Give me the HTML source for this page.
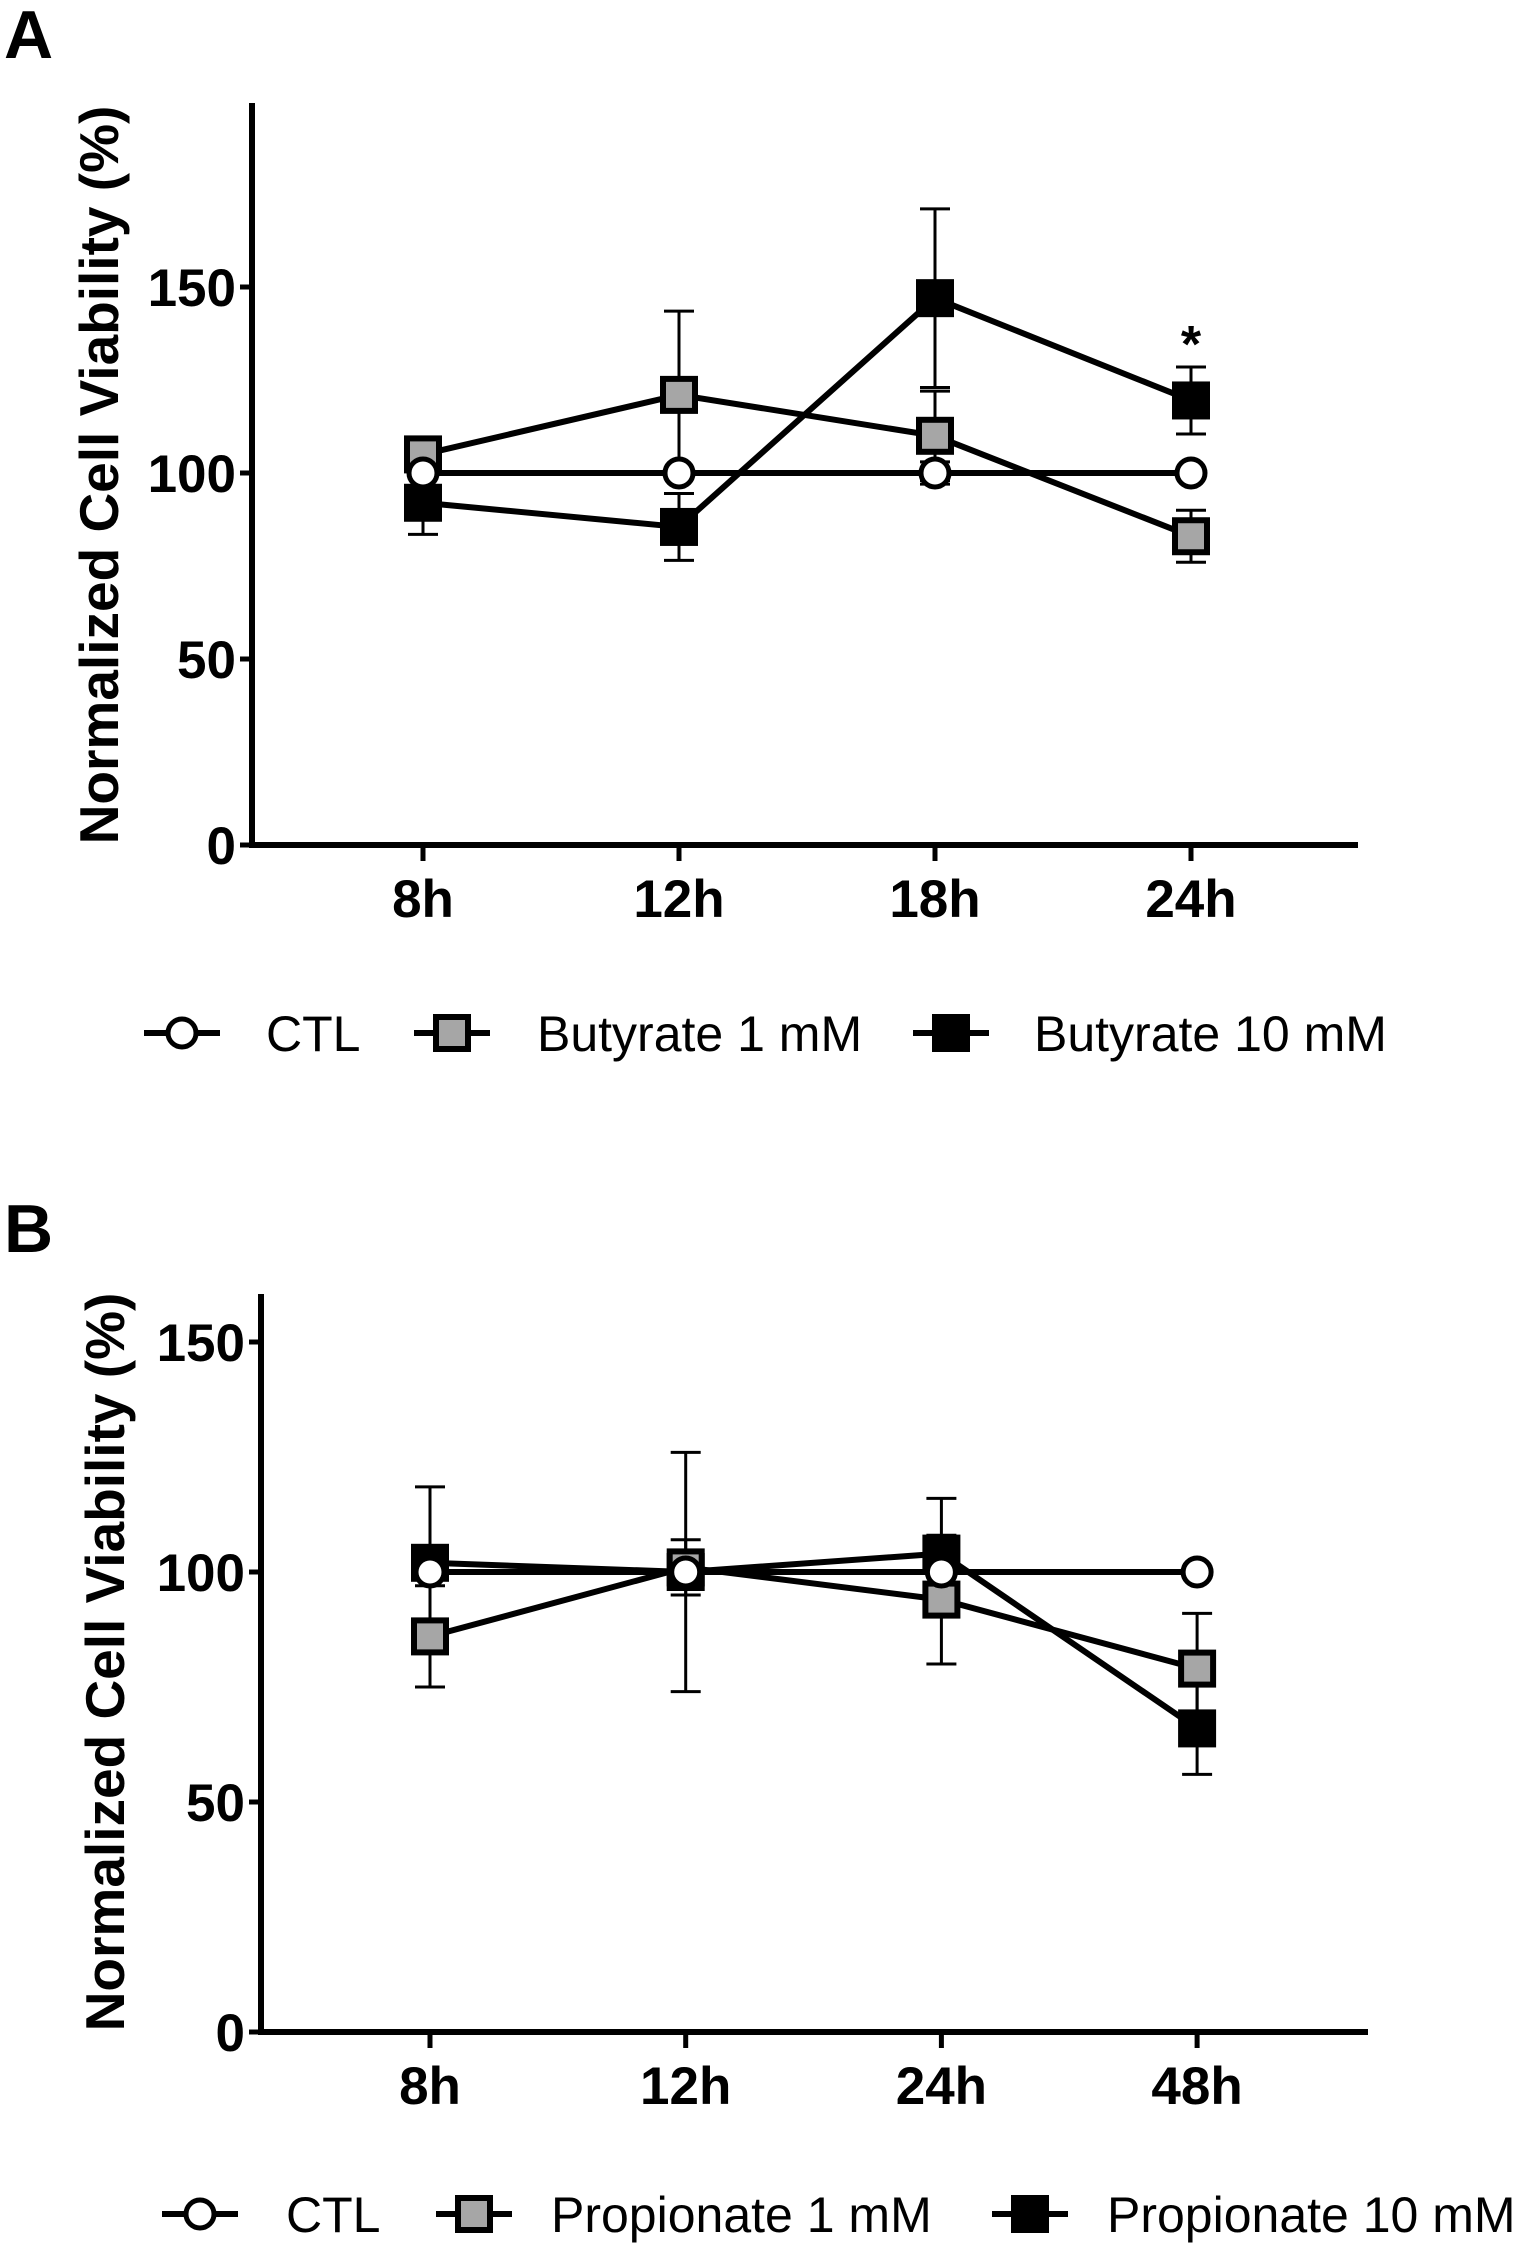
<!DOCTYPE html>
<html><head><meta charset="utf-8"><style>
html,body{margin:0;padding:0;background:#fff;}
svg{display:block;font-family:"Liberation Sans",Arial,sans-serif;}
</style></head><body>
<svg id="fig" width="1524" height="2250" viewBox="0 0 1524 2250" xmlns="http://www.w3.org/2000/svg"></svg>
<script>
// Panel A data
const catsA = ["8h","12h","18h","24h"];
const ctlA = [100,100,100,100];
const ctlAErr = [0,0,3,0];
const but1 = [105,121,110,83];
const but1Err = [0,22.5,12,7];
const but10 = [92,85.5,147,119.5];
const but10Err = [8.5,9,24,9];
const ticksA = [0,50,100,150];
// Panel B data
const catsB = ["8h","12h","24h","48h"];
const ctlB = [100,100,100,100];
const ctlBErr = [0,0,0,0];
const prop1 = [86,101,94,79];
const prop1Err = [11,6,14,12];
const prop10 = [102,100,104,66];
const prop10Err = [16.5,26,12,10];
const ticksB = [0,50,100,150];

const NS="http://www.w3.org/2000/svg";
const svg=document.getElementById('fig');
function mk(tag,attrs,parent){const e=document.createElementNS(NS,tag);for(const k in attrs)e.setAttribute(k,attrs[k]);(parent||svg).appendChild(e);return e;}

function panel(o){
  const g=mk('g',{});
  
  
  const y=v=>o.y0-(v/50)*o.per50;
  const x=i=>o.xs0+i*o.dx;
  const L=mk('text',{x:4,y:o.letterY,'font-size':68,'font-weight':'bold'},g);L.textContent=o.letter;
  
  const ya=mk('line',{x1:o.ax,y1:o.top,x2:o.ax,y2:o.y0+3,stroke:'#000','stroke-width':6},g);
  
  const xa=mk('line',{x1:o.ax-3,y1:o.y0,x2:o.right,y2:o.y0,stroke:'#000','stroke-width':6},g);
  
  o.ticks.forEach(t=>{
    mk('line',{x1:o.ax-12,y1:y(t),x2:o.ax,y2:y(t),stroke:'#000','stroke-width':5},g);
    const tx=mk('text',{x:o.ax-16,y:y(t)+19,'font-size':53,'font-weight':'bold','text-anchor':'end'},g);
    tx.textContent=t;
    
  });
  o.cats.forEach((c,i)=>{
    mk('line',{x1:x(i),y1:o.y0,x2:x(i),y2:o.y0+16,stroke:'#000','stroke-width':5},g);
    const tx=mk('text',{x:x(i),y:o.y0+72,'font-size':53,'font-weight':'bold','text-anchor':'middle'},g);
    tx.textContent=c;
    
  });
  const yt=mk('text',{x:0,y:0,'font-size':55,'font-weight':'bold','text-anchor':'middle',transform:`translate(${o.titleX},${o.titleY}) rotate(-90)`},g);
  yt.textContent='Normalized Cell Viability  (%)';
  
  o.series.forEach(s=>{
    const sg=mk('g',{},g);
    
    
    s.vals.forEach((v,i)=>{
      if(s.err[i]>0){
        const e1=y(v+s.err[i]),e2=y(v-s.err[i]);
        mk('line',{x1:x(i),y1:e1,x2:x(i),y2:e2,stroke:'#000','stroke-width':3},sg);
        mk('line',{x1:x(i)-15,y1:e1,x2:x(i)+15,y2:e1,stroke:'#000','stroke-width':3},sg);
        mk('line',{x1:x(i)-15,y1:e2,x2:x(i)+15,y2:e2,stroke:'#000','stroke-width':3},sg);
      }
    });
    const pts=s.vals.map((v,i)=>x(i)+','+y(v)).join(' ');
    const pl=mk('polyline',{points:pts,fill:'none',stroke:'#000','stroke-width':6},sg);
    
  });
  o.series.forEach(s=>{
    s.vals.forEach((v,i)=>{
      let m;
      if(s.shape==='circle') m=mk('circle',{cx:x(i),cy:y(v),r:14,fill:'#fff',stroke:'#000','stroke-width':5},g);
      else m=mk('rect',{x:x(i)-16,y:y(v)-16,width:32,height:32,fill:s.fill,stroke:'#000','stroke-width':6},g);
      
    });
  });
  if(o.star){const st=mk('text',{x:x(o.star),y:o.starY,'font-size':52,'font-weight':'bold','text-anchor':'middle'},g);st.textContent='*';
    }
  o.legend.forEach(l=>{
    const lg=mk('g',{},g);
    
    
    mk('line',{x1:l.mx-38,y1:o.legY,x2:l.mx+38,y2:o.legY,stroke:'#000','stroke-width':6},lg);
    if(l.shape==='circle') mk('circle',{cx:l.mx,cy:o.legY,r:14,fill:'#fff',stroke:'#000','stroke-width':5},lg);
    else mk('rect',{x:l.mx-16,y:o.legY-16,width:32,height:32,fill:l.fill,stroke:'#000','stroke-width':6},lg);
    const t=mk('text',{x:l.tx,y:o.legY+18,'font-size':50},lg);t.textContent=l.label;
  });
}

panel({name:'panel-a',letter:'A',letterY:58,ax:252,top:103,y0:845,per50:186,right:1358,xs0:423,dx:256,
  ticks:ticksA,cats:catsA,titleX:118,titleY:475,star:3,starY:362,
  series:[
    {key:'butyrate-10mm',vals:but10,err:but10Err,shape:'sq',fill:'#000'},
    {key:'butyrate-1mm',vals:but1,err:but1Err,shape:'sq',fill:'#a6a6a6'},
    {key:'ctl',vals:ctlA,err:ctlAErr,shape:'circle'}],
  legY:1033,
  legend:[{mx:182,tx:266,shape:'circle',label:'CTL'},{mx:452,tx:537,shape:'sq',fill:'#a6a6a6',label:'Butyrate 1 mM'},{mx:951,tx:1034,shape:'sq',fill:'#000',label:'Butyrate 10 mM'}]
});
panel({name:'panel-b',letter:'B',letterY:1252,ax:261,top:1294,y0:2032,per50:230,right:1368,xs0:430,dx:255.7,
  ticks:ticksB,cats:catsB,titleX:124,titleY:1662,
  series:[
    {key:'propionate-10mm',vals:prop10,err:prop10Err,shape:'sq',fill:'#000'},
    {key:'propionate-1mm',vals:prop1,err:prop1Err,shape:'sq',fill:'#a6a6a6'},
    {key:'ctl',vals:ctlB,err:ctlBErr,shape:'circle'}],
  legY:2214,
  legend:[{mx:200,tx:286,shape:'circle',label:'CTL'},{mx:474,tx:551,shape:'sq',fill:'#a6a6a6',label:'Propionate 1 mM'},{mx:1030,tx:1107,shape:'sq',fill:'#000',label:'Propionate 10 mM'}]
});
</script>
</body></html>
